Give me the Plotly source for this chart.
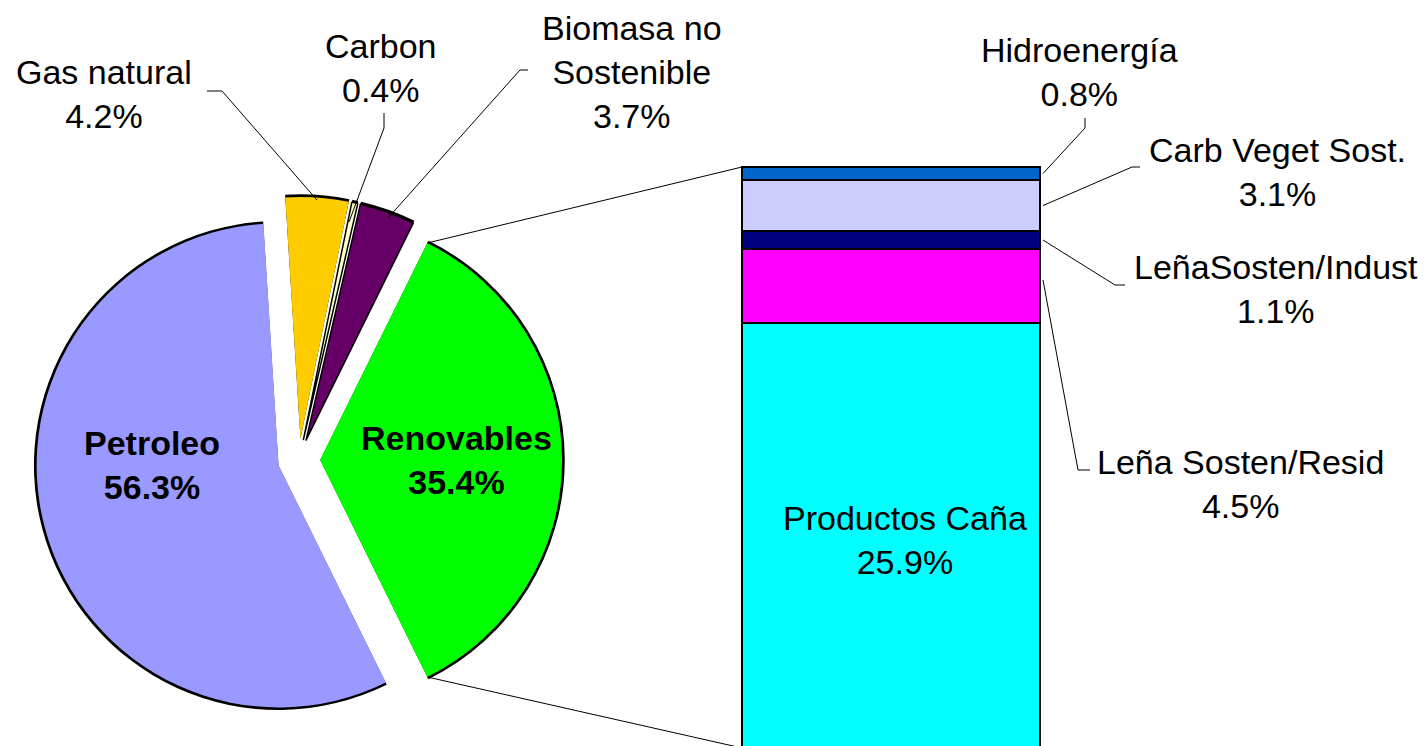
import math
import plotly.graph_objects as go

W, H = 1426, 746
OFF = 8  # page body margin shifts the figure by 8px

# pie data (clockwise from top)
pie_labels = ["Gas natural", "Carbon", "Biomasa no<br>Sostenible", "Renovables", "Petroleo"]
pie_values = [4.2, 0.4, 3.7, 35.4, 56.3]
pie_colors = ["#FFCC00", "#FFFFCC", "#660066", "#00FF00", "#9999FF"]

# breakdown of Renovables (bottom to top)
bar_labels = ["Productos Caña", "Leña Sosten/Resid", "LeñaSosten/Indust", "Carb Veget Sost.", "Hidroenergía"]
bar_values = [25.9, 4.5, 1.1, 3.1, 0.8]
bar_colors = ["#00FFFF", "#FF00FF", "#000080", "#CCCCFF", "#0066CC"]

FONT = "Liberation Sans, Arial, sans-serif"


def px(x, y):
    # screen pixel -> paper coords
    return (x - OFF) / W, 1 - (y - OFF) / H


# pie geometry in screen pixels
cx, cy, r, pull = 299, 460, 242, 0.087
ren = pie_labels.index("Renovables")
before = sum(pie_values[:ren])
rotation = 90 - 360 * (before + pie_values[ren] / 2) / 100


def pie_domain(radius):
    half = radius * (1 + pull)
    x0, y1 = px(cx - half, cy - half)
    x1, y0 = px(cx + half, cy + half)
    return dict(x=[x0, x1], y=[y0, y1])


fig = go.Figure()

# black rim behind the pie
fig.add_trace(go.Pie(
    values=pie_values, labels=pie_labels, sort=False, direction="clockwise",
    rotation=rotation, pull=pull, domain=pie_domain(r + 2.5),
    marker=dict(colors=["#000000"] * len(pie_values), line=dict(width=0)),
    textinfo="none", hoverinfo="skip", showlegend=False,
))
fig.add_trace(go.Pie(
    values=pie_values, labels=pie_labels, sort=False, direction="clockwise",
    rotation=rotation, pull=pull, domain=pie_domain(r),
    marker=dict(colors=pie_colors,
                line=dict(color="#000000", width=[0, 1.5, 1.5, 0, 0])),
    textinfo="none", hoverinfo="skip", showlegend=False,
))

# stacked bar
bar_top, bar_bot = 167, 748
bar_left, bar_right = 742, 1040
total = sum(bar_values)
scale = (bar_bot - bar_top) / total
for lab, val, col in zip(bar_labels, bar_values, bar_colors):
    fig.add_trace(go.Bar(
        x=[0], y=[val], width=1, name=lab,
        marker=dict(color=col, line=dict(color="#000000", width=2.5)),
        hoverinfo="skip", showlegend=False,
    ))

dom_left, dom_right, dom_top = 730, 1052, 150
bw = bar_right - bar_left
xr = [(dom_left - bar_left) / bw - 0.5, (dom_right - bar_left) / bw - 0.5]
yr = [(bar_bot - (H + OFF)) / scale, total + (bar_top - dom_top) / scale]
dx0, _ = px(dom_left, 0)
dx1, dy1 = px(dom_right, dom_top)

fig.update_layout(
    width=W, height=H, margin=dict(l=0, r=0, t=0, b=0),
    paper_bgcolor="white", plot_bgcolor="rgba(0,0,0,0)",
    barmode="stack", bargap=0, showlegend=False,
    xaxis=dict(domain=[dx0, dx1], range=xr, visible=False, fixedrange=True),
    yaxis=dict(domain=[0, dy1], range=yr, visible=False, fixedrange=True),
    font=dict(family=FONT, size=34, color="black"),
)

shapes = []

# connector lines from Renovables slice to bar
a1 = math.radians(rotation + 360 * before / 100)
a2 = math.radians(rotation + 360 * (before + pie_values[ren]) / 100)
mid = (a1 + a2) / 2
ax_, ay_ = cx + pull * r * math.sin(mid), cy - pull * r * math.cos(mid)
for ang, ty in [(a1, bar_top), (a2, bar_bot)]:
    tx, tyy = ax_ + r * math.sin(ang), ay_ - r * math.cos(ang)
    x0, y0 = px(tx, tyy)
    x1, y1 = px(bar_left, ty)
    shapes.append(dict(type="line", xref="paper", yref="paper",
                       x0=x0, y0=y0, x1=x1, y1=y1,
                       line=dict(color="black", width=1)))


def leader(points):
    pts = [px(x, y) for x, y in points]
    path = "M " + " L ".join(f"{x},{y}" for x, y in pts)
    shapes.append(dict(type="path", xref="paper", yref="paper", path=path,
                       line=dict(color="black", width=1)))


# segment centers on bar (pixels)
seg_mid = []
acc = 0
for v in bar_values:
    seg_mid.append(bar_bot - (acc + v / 2) * scale)
    acc += v

leader([(207, 91), (222, 91), (317, 200)])
leader([(384, 113), (384, 128), (349, 222)])
leader([(528, 70), (520, 70), (388, 218)])
leader([(1085, 118), (1085, 128), (bar_right + 3, seg_mid[4])])
leader([(1140, 167), (1132, 167), (bar_right + 3, seg_mid[3])])
leader([(1125, 285), (1115, 285), (bar_right + 3, seg_mid[2])])
leader([(1090, 470), (1078, 470), (bar_right + 3, seg_mid[1] - 6)])

fig.update_layout(shapes=shapes)


def label(text, x, y, bold=False):
    if bold:
        text = "<b>" + text.replace("<br>", "</b><br><b>") + "</b>"
    xp, yp = px(x, y)
    fig.add_annotation(x=xp, y=yp, xref="paper", yref="paper", text=text,
                       showarrow=False, xanchor="center", yanchor="middle",
                       align="center", font=dict(family=FONT, size=34, color="black"))


def pct(v):
    return f"{v:.1f}%"


pie_pos = {"Gas natural": (104, 94), "Carbon": (381, 68),
           "Biomasa no<br>Sostenible": (632, 72)}
for lab, val in zip(pie_labels, pie_values):
    if lab in pie_pos:
        label(f"{lab}<br>{pct(val)}", *pie_pos[lab])
label(f"Petroleo<br>{pct(pie_values[4])}", 152, 465, bold=True)
label(f"Renovables<br>{pct(pie_values[3])}", 456, 460, bold=True)

bar_pos = {"Hidroenergía": (1079, 72), "Carb Veget Sost.": (1277, 172),
           "LeñaSosten/Indust": (1276, 289), "Leña Sosten/Resid": (1240, 484),
           "Productos Caña": (905, 540)}
for lab, val in zip(bar_labels, bar_values):
    label(f"{lab}<br>{pct(val)}", *bar_pos[lab])

fig.write_html("out.html")
